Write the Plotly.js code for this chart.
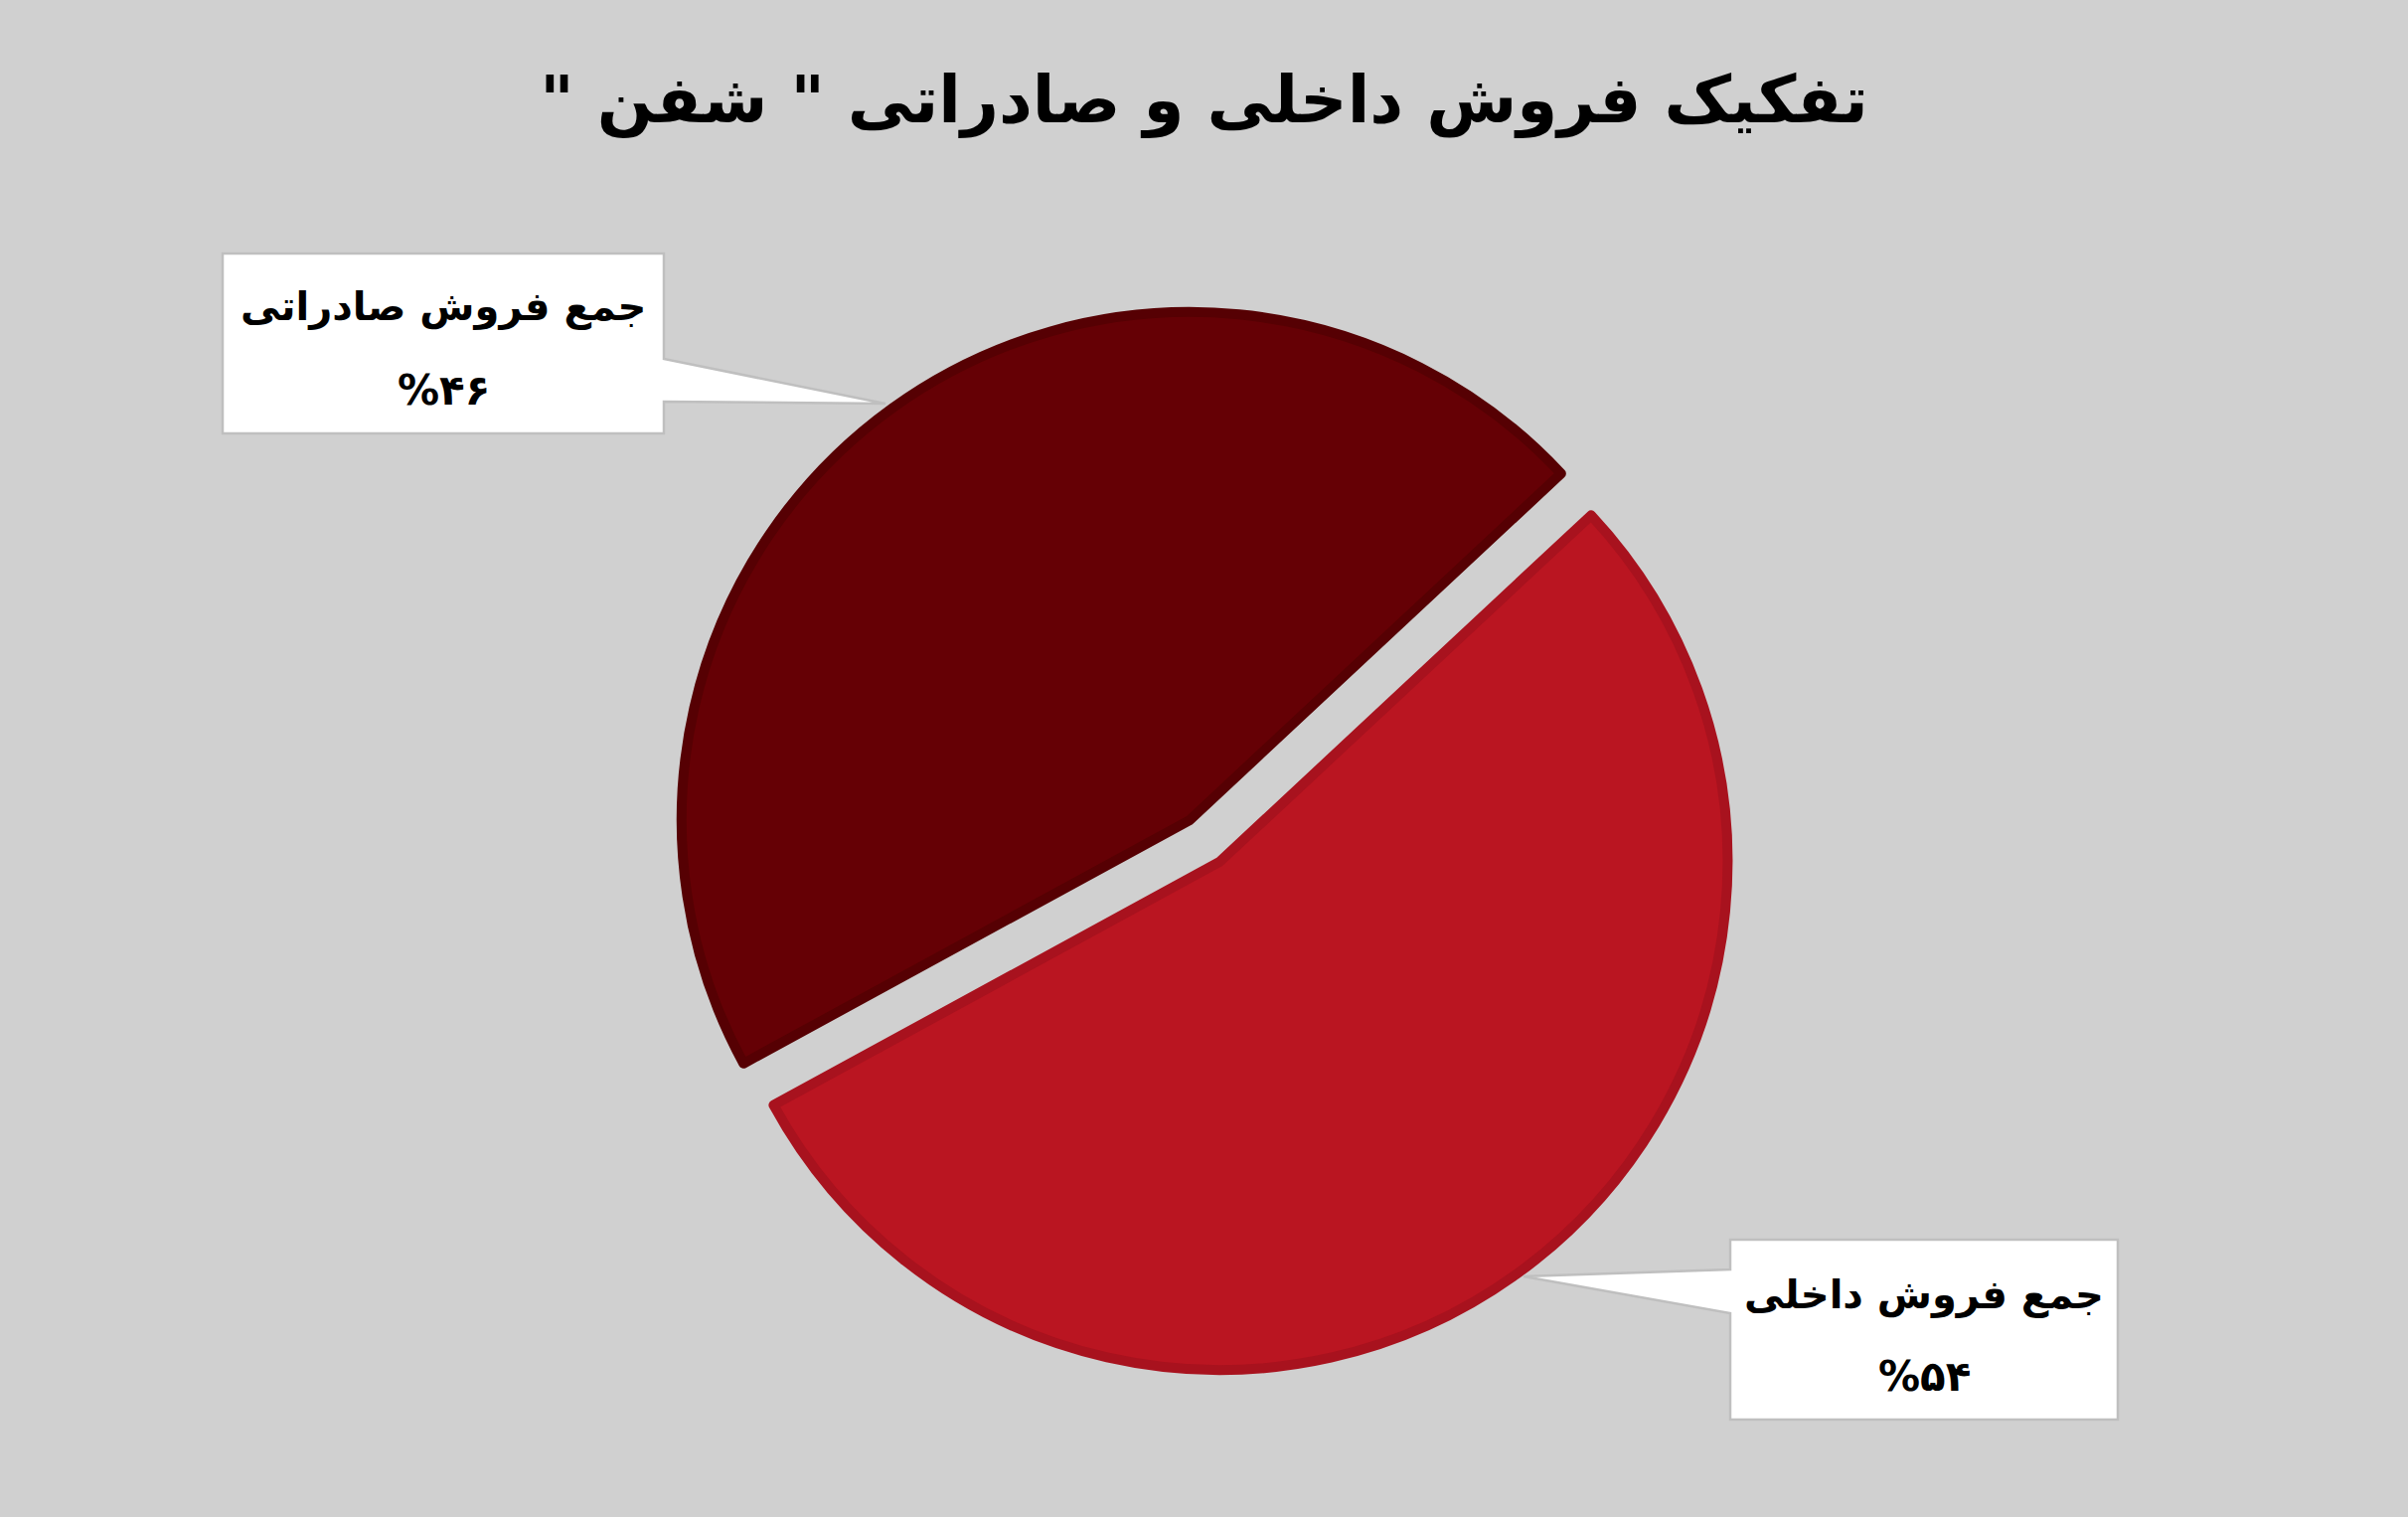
<!DOCTYPE html>
<html>
<head>
<meta charset="utf-8">
<script src="https://cdn.plot.ly/plotly-3.0.1.min.js"></script>
<style>html,body{margin:0;padding:0;background:#d0d0d0;}#chart{width:2423px;height:1526px;}</style>
</head>
<body>
<div id="chart"></div>
<script>
// ---- data ----
const chartTitle = 'تفکیک فروش داخلی و صادراتی " شفن "';
const categories = ['جمع فروش داخلی', 'جمع فروش صادراتی'];
const values = [54, 46];
const sliceColors = ['#ba1521', '#650005'];
const sliceBorders = ['#a8121e', '#560003'];

// ---- helpers ----
const W = 2423, H = 1526;
const px = x => x / W;
const py = y => 1 - y / H;
const toFa = s => String(s).replace(/[0-9]/g, d => '۰۱۲۳۴۵۶۷۸۹'[d]);
const total = values.reduce((a, b) => a + b, 0);
const pctText = values.map(v => '%' + toFa(Math.round(v / total * 100)));

function poly(pts) {
  return 'M ' + pts.map(p => px(p[0]) + ' ' + py(p[1])).join(' L ') + ' Z';
}

// label callout boxes (layout decoration)
const callouts = [
  // domestic (index 0) - bottom right box, wedge pointing left
  [[1741,1247],[2131,1247],[2131,1428],[1741,1428],[1741,1321],[1533,1284],[1741,1277]],
  // export (index 1) - top left box, wedge pointing right
  [[224,255],[668,255],[668,361],[891,406],[668,404],[668,436],[224,436]]
];
const labelPos = [
  {x: 1936, y1: 1302, y2: 1384},
  {x: 446, y1: 308, y2: 392}
];

const shapes = callouts.map(c => ({
  type: 'path', xref: 'paper', yref: 'paper', path: poly(c),
  fillcolor: '#ffffff', line: {color: '#bfbfbf', width: 2.5}, layer: 'above'
}));

const annotations = [];
categories.forEach((c, i) => {
  annotations.push({
    xref: 'paper', yref: 'paper', x: px(labelPos[i].x), y: py(labelPos[i].y1),
    xanchor: 'center', yanchor: 'middle', showarrow: false, text: '<b>' + c + '</b>',
    font: {family: 'DejaVu Sans', size: 40, color: '#000000'}
  });
  annotations.push({
    xref: 'paper', yref: 'paper', x: px(labelPos[i].x), y: py(labelPos[i].y2),
    xanchor: 'center', yanchor: 'middle', showarrow: false, text: '<b>' + pctText[i] + '</b>',
    font: {family: 'DejaVu Sans', size: 42, color: '#000000'}
  });
});

const trace = {
  type: 'pie',
  labels: categories,
  values: values,
  sort: false,
  direction: 'clockwise',
  rotation: 47,
  pull: [0.0505, 0.0505],
  textinfo: 'none',
  hoverinfo: 'none',
  marker: {colors: sliceColors, line: {color: sliceBorders, width: 10}},
  domain: {x: [0.2786, 0.7219], y: [0.0937, 0.7975]},
  showlegend: false
};

const layout = {
  width: W, height: H,
  paper_bgcolor: '#d0d0d0', plot_bgcolor: '#d0d0d0',
  margin: {l: 0, r: 0, t: 0, b: 0},
  showlegend: false,
  title: {
    text: '<b>\u200F' + chartTitle + '\u200F</b>',
    x: 0.5, xanchor: 'center', y: py(100), yanchor: 'middle',
    font: {family: 'DejaVu Sans', size: 66, color: '#000000'}
  },
  shapes: shapes,
  annotations: annotations
};

Plotly.newPlot('chart', [trace], layout, {displayModeBar: false, staticPlot: true});
</script>
</body>
</html>
